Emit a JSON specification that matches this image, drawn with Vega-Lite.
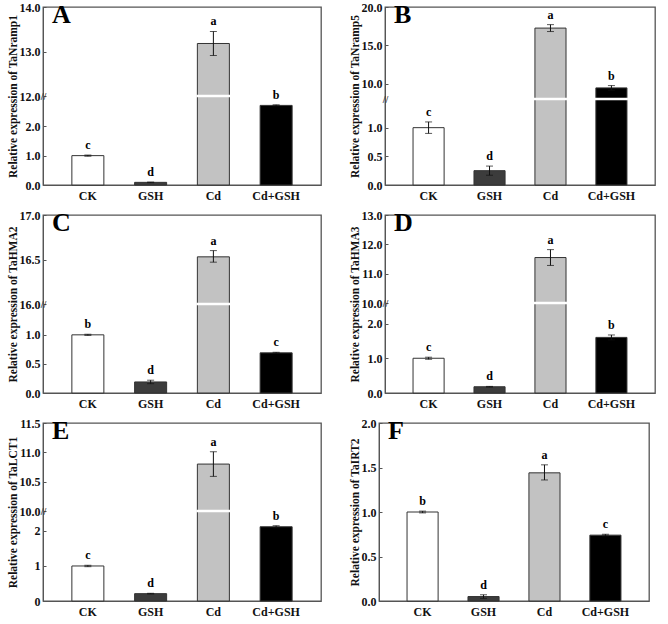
{
  "$schema": "https://vega.github.io/schema/vega-lite/v6.json",
  "background": "white",
  "padding": {"left": 6, "top": 0, "right": 5, "bottom": 0},
  "config": {
    "font": "Liberation Serif",
    "view": {"stroke": "#555", "strokeWidth": 1.3},
    "axis": {"grid": false, "labelFont": "Liberation Serif", "labelFontWeight": "bold", "labelFontSize": 12, "labelColor": "#111",
             "titleFont": "Liberation Serif", "titleFontWeight": "bold", "titleFontSize": 11.5, "titleColor": "#111",
             "domainColor": "#555", "tickColor": "#555"},
    "axisY": {"tickSize": -3, "labelPadding": 6, "titlePadding": 1},
    "axisX": {"ticks": false, "labelPadding": 5, "labelAngle": 0, "title": null},
    "title": {"anchor": "start", "frame": "group", "offset": -27, "dx": 9, "baseline": "bottom", "fontSize": 26, "fontWeight": "bold", "font": "Liberation Serif", "color": "#000"},
    "text": {"fontWeight": "bold", "fontSize": 12, "baseline": "bottom", "dy": -3, "color": "#000"}
  },
  "datasets": {
    "expr": [
      {"panel": "A", "treatment": "CK", "value": 1.0, "lo": 0.98, "hi": 1.02, "letter": "c"},
      {"panel": "A", "treatment": "GSH", "value": 0.09, "lo": 0.08, "hi": 0.10, "letter": "d"},
      {"panel": "A", "treatment": "Cd", "value": 13.18, "lo": 12.91, "hi": 13.45, "letter": "a"},
      {"panel": "A", "treatment": "Cd+GSH", "value": 2.71, "lo": 2.69, "hi": 2.73, "letter": "b"},
      {"panel": "B", "treatment": "CK", "value": 1.0, "lo": 0.9, "hi": 1.1, "letter": "c"},
      {"panel": "B", "treatment": "GSH", "value": 0.25, "lo": 0.17, "hi": 0.33, "letter": "d"},
      {"panel": "B", "treatment": "Cd", "value": 17.25, "lo": 16.8, "hi": 17.7, "letter": "a"},
      {"panel": "B", "treatment": "Cd+GSH", "value": 9.45, "lo": 9.15, "hi": 9.75, "letter": "b"},
      {"panel": "C", "treatment": "CK", "value": 1.0, "lo": 0.99, "hi": 1.01, "letter": "b"},
      {"panel": "C", "treatment": "GSH", "value": 0.19, "lo": 0.16, "hi": 0.22, "letter": "d"},
      {"panel": "C", "treatment": "Cd", "value": 16.53, "lo": 16.47, "hi": 16.6, "letter": "a"},
      {"panel": "C", "treatment": "Cd+GSH", "value": 0.69, "lo": 0.68, "hi": 0.7, "letter": "c"},
      {"panel": "D", "treatment": "CK", "value": 1.0, "lo": 0.97, "hi": 1.03, "letter": "c"},
      {"panel": "D", "treatment": "GSH", "value": 0.18, "lo": 0.17, "hi": 0.19, "letter": "d"},
      {"panel": "D", "treatment": "Cd", "value": 11.55, "lo": 11.28, "hi": 11.82, "letter": "a"},
      {"panel": "D", "treatment": "Cd+GSH", "value": 1.6, "lo": 1.53, "hi": 1.67, "letter": "b"},
      {"panel": "E", "treatment": "CK", "value": 1.0, "lo": 0.98, "hi": 1.02, "letter": "c"},
      {"panel": "E", "treatment": "GSH", "value": 0.21, "lo": 0.2, "hi": 0.22, "letter": "d"},
      {"panel": "E", "treatment": "Cd", "value": 10.8, "lo": 10.59, "hi": 11.01, "letter": "a"},
      {"panel": "E", "treatment": "Cd+GSH", "value": 2.12, "lo": 2.09, "hi": 2.15, "letter": "b"},
      {"panel": "F", "treatment": "CK", "value": 1.0, "lo": 0.99, "hi": 1.01, "letter": "b"},
      {"panel": "F", "treatment": "GSH", "value": 0.05, "lo": 0.03, "hi": 0.07, "letter": "d"},
      {"panel": "F", "treatment": "Cd", "value": 1.44, "lo": 1.36, "hi": 1.53, "letter": "a"},
      {"panel": "F", "treatment": "Cd+GSH", "value": 0.74, "lo": 0.73, "hi": 0.75, "letter": "c"}
    ]
  },
  "spacing": 6,
  "vconcat": [
    {
      "spacing": 26,
      "hconcat": [
        {
          "width": 278, "height": 178,
          "title": "A",
          "data": {"name": "expr"},
          "transform": [{"filter": "datum.panel === 'A'"}],
          "encoding": {"x": {"field": "treatment", "type": "nominal", "sort": ["CK", "GSH", "Cd", "Cd+GSH"], "scale": {"paddingInner": 0.49, "paddingOuter": 0.46}}},
          "layer": [
            {"mark": {"type": "bar", "stroke": "#333", "strokeWidth": 1},
             "encoding": {
               "y": {"field": "value", "type": "quantitative", "scale": {"domain": [0, 3.03, 12, 14], "range": [178, 89, 89, 0], "nice": false, "zero": false},
                     "axis": {"title": "Relative expression of TaNramp1", "values": [0, 1, 2, 12, 13, 14], "format": ".1f"}},
               "fill": {"field": "treatment", "type": "nominal", "scale": {"domain": ["CK", "GSH", "Cd", "Cd+GSH"], "range": ["#ffffff", "#3c3c3c", "#c2c2c2", "#000000"]}, "legend": null}}},
            {"transform": [{"filter": "datum.value > 12"}],
             "mark": {"type": "tick", "color": "#ffffff", "thickness": 2.5, "size": 34, "opacity": 1},
             "encoding": {"y": {"datum": 12, "type": "quantitative",
               "axis": {"orient": "left", "values": [12], "labelExpr": "'//'", "title": null, "domain": false, "ticks": false, "labelPadding": 0, "labelAlign": "center", "labelBaseline": "middle", "labelFontSize": 10, "labelColor": "#333"}}}},
            {"mark": {"type": "errorbar", "ticks": true, "size": 7, "thickness": 1, "color": "#111"},
             "encoding": {"y": {"field": "lo", "type": "quantitative", "axis": null}, "y2": {"field": "hi"}}},
            {"mark": {"type": "text"},
             "encoding": {"y": {"field": "hi", "type": "quantitative", "axis": null}, "text": {"field": "letter"}}}
          ],
          "resolve": {"axis": {"y": "independent"}}
        },
        {
          "width": 270, "height": 178,
          "title": "B",
          "data": {"name": "expr"},
          "transform": [{"filter": "datum.panel === 'B'"}],
          "encoding": {"x": {"field": "treatment", "type": "nominal", "sort": ["CK", "GSH", "Cd", "Cd+GSH"], "scale": {"paddingInner": 0.49, "paddingOuter": 0.46}}},
          "layer": [
            {"mark": {"type": "bar", "stroke": "#333", "strokeWidth": 1},
             "encoding": {
               "y": {"field": "value", "type": "quantitative", "scale": {"domain": [0, 1.5, 8, 20], "range": [178, 92, 92, 0], "nice": false, "zero": false},
                     "axis": {"title": "Relative expression of TaNramp5", "values": [0, 0.5, 1, 10, 15, 20], "format": ".1f"}},
               "fill": {"field": "treatment", "type": "nominal", "scale": {"domain": ["CK", "GSH", "Cd", "Cd+GSH"], "range": ["#ffffff", "#3c3c3c", "#c2c2c2", "#000000"]}, "legend": null}}},
            {"transform": [{"filter": "datum.value > 8"}],
             "mark": {"type": "tick", "color": "#ffffff", "thickness": 2.5, "size": 33, "opacity": 1},
             "encoding": {"y": {"datum": 8, "type": "quantitative",
               "axis": {"orient": "left", "values": [8], "labelExpr": "'//'", "title": null, "domain": false, "ticks": false, "labelPadding": 0, "labelAlign": "center", "labelBaseline": "middle", "labelFontSize": 10, "labelColor": "#333"}}}},
            {"mark": {"type": "errorbar", "ticks": true, "size": 7, "thickness": 1, "color": "#111"},
             "encoding": {"y": {"field": "lo", "type": "quantitative", "axis": null}, "y2": {"field": "hi"}}},
            {"mark": {"type": "text"},
             "encoding": {"y": {"field": "hi", "type": "quantitative", "axis": null}, "text": {"field": "letter"}}}
          ],
          "resolve": {"axis": {"y": "independent"}}
        }
      ]
    },
    {
      "spacing": 26,
      "hconcat": [
        {
          "width": 278, "height": 178,
          "title": "C",
          "data": {"name": "expr"},
          "transform": [{"filter": "datum.panel === 'C'"}],
          "encoding": {"x": {"field": "treatment", "type": "nominal", "sort": ["CK", "GSH", "Cd", "Cd+GSH"], "scale": {"paddingInner": 0.49, "paddingOuter": 0.46}}},
          "layer": [
            {"mark": {"type": "bar", "stroke": "#333", "strokeWidth": 1},
             "encoding": {
               "y": {"field": "value", "type": "quantitative", "scale": {"domain": [0, 1.53, 16, 17], "range": [178, 89, 89, 0], "nice": false, "zero": false},
                     "axis": {"title": "Relative expression of TaHMA2", "values": [0, 0.5, 1, 16, 16.5, 17], "format": ".1f"}},
               "fill": {"field": "treatment", "type": "nominal", "scale": {"domain": ["CK", "GSH", "Cd", "Cd+GSH"], "range": ["#ffffff", "#3c3c3c", "#c2c2c2", "#000000"]}, "legend": null}}},
            {"transform": [{"filter": "datum.value > 16"}],
             "mark": {"type": "tick", "color": "#ffffff", "thickness": 2.5, "size": 34, "opacity": 1},
             "encoding": {"y": {"datum": 16, "type": "quantitative",
               "axis": {"orient": "left", "values": [16], "labelExpr": "'//'", "title": null, "domain": false, "ticks": false, "labelPadding": 0, "labelAlign": "center", "labelBaseline": "middle", "labelFontSize": 10, "labelColor": "#333"}}}},
            {"mark": {"type": "errorbar", "ticks": true, "size": 7, "thickness": 1, "color": "#111"},
             "encoding": {"y": {"field": "lo", "type": "quantitative", "axis": null}, "y2": {"field": "hi"}}},
            {"mark": {"type": "text"},
             "encoding": {"y": {"field": "hi", "type": "quantitative", "axis": null}, "text": {"field": "letter"}}}
          ],
          "resolve": {"axis": {"y": "independent"}}
        },
        {
          "width": 270, "height": 178,
          "title": "D",
          "data": {"name": "expr"},
          "transform": [{"filter": "datum.panel === 'D'"}],
          "encoding": {"x": {"field": "treatment", "type": "nominal", "sort": ["CK", "GSH", "Cd", "Cd+GSH"], "scale": {"paddingInner": 0.49, "paddingOuter": 0.46}}},
          "layer": [
            {"mark": {"type": "bar", "stroke": "#333", "strokeWidth": 1},
             "encoding": {
               "y": {"field": "value", "type": "quantitative", "scale": {"domain": [0, 2.59, 10, 13], "range": [178, 88, 88, 0], "nice": false, "zero": false},
                     "axis": {"title": "Relative expression of TaHMA3", "values": [0, 1, 2, 10, 11, 12, 13], "format": ".1f"}},
               "fill": {"field": "treatment", "type": "nominal", "scale": {"domain": ["CK", "GSH", "Cd", "Cd+GSH"], "range": ["#ffffff", "#3c3c3c", "#c2c2c2", "#000000"]}, "legend": null}}},
            {"transform": [{"filter": "datum.value > 10"}],
             "mark": {"type": "tick", "color": "#ffffff", "thickness": 2.5, "size": 33, "opacity": 1},
             "encoding": {"y": {"datum": 10, "type": "quantitative",
               "axis": {"orient": "left", "values": [10], "labelExpr": "'//'", "title": null, "domain": false, "ticks": false, "labelPadding": 0, "labelAlign": "center", "labelBaseline": "middle", "labelFontSize": 10, "labelColor": "#333"}}}},
            {"mark": {"type": "errorbar", "ticks": true, "size": 7, "thickness": 1, "color": "#111"},
             "encoding": {"y": {"field": "lo", "type": "quantitative", "axis": null}, "y2": {"field": "hi"}}},
            {"mark": {"type": "text"},
             "encoding": {"y": {"field": "hi", "type": "quantitative", "axis": null}, "text": {"field": "letter"}}}
          ],
          "resolve": {"axis": {"y": "independent"}}
        }
      ]
    },
    {
      "spacing": 26,
      "hconcat": [
        {
          "width": 278, "height": 178,
          "title": "E",
          "data": {"name": "expr"},
          "transform": [{"filter": "datum.panel === 'E'"}],
          "encoding": {"x": {"field": "treatment", "type": "nominal", "sort": ["CK", "GSH", "Cd", "Cd+GSH"], "scale": {"paddingInner": 0.49, "paddingOuter": 0.46}}},
          "layer": [
            {"mark": {"type": "bar", "stroke": "#333", "strokeWidth": 1},
             "encoding": {
               "y": {"field": "value", "type": "quantitative", "scale": {"domain": [0, 2.57, 10, 11.5], "range": [178, 88, 88, 0], "nice": false, "zero": false},
                     "axis": {"title": "Relative expression of TaLCT1", "values": [0, 1, 2, 10, 10.5, 11, 11.5], "labelExpr": "datum.value < 5 ? format(datum.value, 'd') : format(datum.value, '.1f')"}},
               "fill": {"field": "treatment", "type": "nominal", "scale": {"domain": ["CK", "GSH", "Cd", "Cd+GSH"], "range": ["#ffffff", "#3c3c3c", "#c2c2c2", "#000000"]}, "legend": null}}},
            {"transform": [{"filter": "datum.value > 10"}],
             "mark": {"type": "tick", "color": "#ffffff", "thickness": 2.5, "size": 34, "opacity": 1},
             "encoding": {"y": {"datum": 10, "type": "quantitative",
               "axis": {"orient": "left", "values": [10], "labelExpr": "'//'", "title": null, "domain": false, "ticks": false, "labelPadding": 0, "labelAlign": "center", "labelBaseline": "middle", "labelFontSize": 10, "labelColor": "#333"}}}},
            {"mark": {"type": "errorbar", "ticks": true, "size": 7, "thickness": 1, "color": "#111"},
             "encoding": {"y": {"field": "lo", "type": "quantitative", "axis": null}, "y2": {"field": "hi"}}},
            {"mark": {"type": "text"},
             "encoding": {"y": {"field": "hi", "type": "quantitative", "axis": null}, "text": {"field": "letter"}}}
          ],
          "resolve": {"axis": {"y": "independent"}}
        },
        {
          "width": 270, "height": 178,
          "title": "F",
          "data": {"name": "expr"},
          "transform": [{"filter": "datum.panel === 'F'"}],
          "encoding": {"x": {"field": "treatment", "type": "nominal", "sort": ["CK", "GSH", "Cd", "Cd+GSH"], "scale": {"paddingInner": 0.49, "paddingOuter": 0.46}}},
          "layer": [
            {"mark": {"type": "bar", "stroke": "#333", "strokeWidth": 1},
             "encoding": {
               "y": {"field": "value", "type": "quantitative", "scale": {"domain": [0, 2], "nice": false, "zero": false},
                     "axis": {"title": "Relative expression of TaIRT2", "values": [0, 0.5, 1, 1.5, 2], "format": ".1f"}},
               "fill": {"field": "treatment", "type": "nominal", "scale": {"domain": ["CK", "GSH", "Cd", "Cd+GSH"], "range": ["#ffffff", "#3c3c3c", "#c2c2c2", "#000000"]}, "legend": null}}},
            {"mark": {"type": "errorbar", "ticks": true, "size": 7, "thickness": 1, "color": "#111"},
             "encoding": {"y": {"field": "lo", "type": "quantitative", "axis": null}, "y2": {"field": "hi"}}},
            {"mark": {"type": "text"},
             "encoding": {"y": {"field": "hi", "type": "quantitative", "axis": null}, "text": {"field": "letter"}}}
          ],
          "resolve": {"axis": {"y": "independent"}}
        }
      ]
    }
  ]
}
